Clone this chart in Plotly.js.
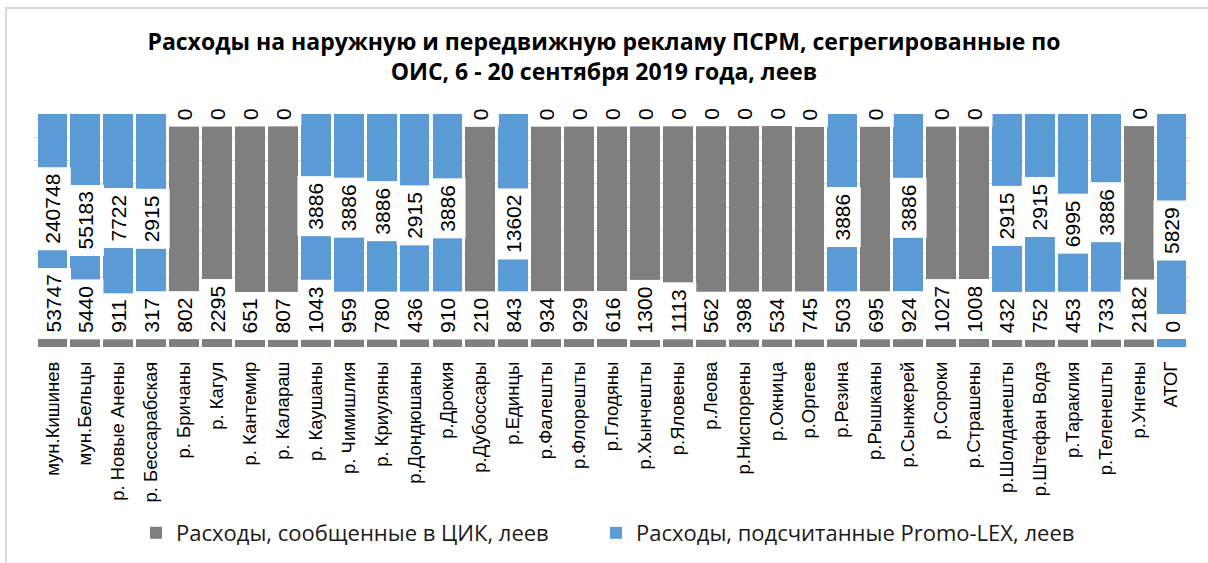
<!DOCTYPE html>
<html>
<head>
<meta charset="utf-8">
<script src="https://cdn.plot.ly/plotly-3.0.1.min.js"></script>
<style>
  html, body { margin: 0; padding: 0; background: #fff; }
  #wrap { position: relative; width: 1208px; height: 563px; overflow: hidden; }
  #chart { width: 1208px; height: 563px; }
  #frame { position: absolute; left: 5px; top: 7px; width: 1300px; height: 700px;
           border-left: 2px solid #d9d9d9; border-top: 2px solid #d9d9d9; pointer-events: none; }
</style>
</head>
<body>
<div id="wrap">
  <div id="chart"></div>
  <div id="frame"></div>
</div>
<script>
const categories = ["мун.Кишинев","мун.Бельцы","р. Новые Анены","р. Бессарабская","р. Бричаны","р. Кагул","р. Кантемир","р. Калараш","р. Каушаны","р. Чимишлия","р. Криуляны","р.Дондюшаны","р.Дрокия","р.Дубоссары","р.Единцы","р.Фалешты","р.Флорешты","р.Глодяны","р.Хынчешты","р.Яловены","р.Леова","р.Ниспорены","р.Окница","р.Оргеев","р.Резина","р.Рышканы","р.Сынжерей","р.Сороки","р.Страшены","р.Шолданешты","р.Штефан Водэ","р.Тараклия","р.Теленешты","р.Унгены","АТОГ"];
const cecValues = [53747,5440,911,317,802,2295,651,807,1043,959,780,436,910,210,843,934,929,616,1300,1113,562,398,534,745,503,695,924,1027,1008,432,752,453,733,2182,0];
const promoValues = [240748,55183,7722,2915,0,0,0,0,3886,3886,3886,2915,3886,0,13602,0,0,0,0,0,0,0,0,0,3886,0,3886,0,0,2915,2915,6995,3886,0,5829];
const seriesNames = ["Расходы, сообщенные в ЦИК, леев","Расходы, подсчитанные Promo-LEX, леев"];
const titleText = "Расходы на наружную и передвижную рекламу ПСРМ, сегрегированные по<br>ОИС, 6 - 20 сентября 2019 года, леев";

const GRAY = "#7f7f7f", BLUE = "#5b9bd5";
const labelFont = {family: "Liberation Sans, Arial, sans-serif", size: 21, color: "#000"};
const legendFont = {family: "Open Sans, sans-serif", size: 22, color: "#1a1a1a"};

const traces = [
  {type: "bar", name: seriesNames[0], x: categories, y: cecValues, marker: {color: GRAY}, hoverinfo: "skip", legend: "legend"},
  {type: "bar", name: seriesNames[1], x: categories, y: promoValues, marker: {color: BLUE}, hoverinfo: "skip", legend: "legend2"}
];

const annotations = [];
categories.forEach((c, i) => {
  const total = cecValues[i] + promoValues[i];
  const gPct = total ? cecValues[i] / total * 100 : 0;
  const bPct = total ? promoValues[i] / total * 100 : 0;
  annotations.push({
    x: c, y: 0, xref: "x", yref: "y", text: String(cecValues[i]), showarrow: false,
    textangle: -90, yanchor: "bottom", yshift: 7, bgcolor: "#ffffff", borderpad: 6,
    font: labelFont
  });
  annotations.push({
    x: c, y: gPct + bPct / 2, xref: "x", yref: "y", text: String(promoValues[i]), showarrow: false,
    textangle: -90, yanchor: "middle", bgcolor: "#ffffff", borderpad: 6,
    font: labelFont
  });
});

const layout = {
  width: 1208, height: 563,
  margin: {l: 33.5, r: 18, t: 114, b: 216},
  paper_bgcolor: "rgba(0,0,0,0)", plot_bgcolor: "#fff",
  barmode: "stack", barnorm: "percent", bargap: 0.092,
  title: {
    text: titleText, x: 0.5, xref: "container", xanchor: "center",
    y: 1 - 50 / 563, yref: "container", yanchor: "top",
    font: {family: "Open Sans, sans-serif", size: 23, weight: 700, color: "#000"}
  },
  xaxis: {
    type: "category", tickangle: -90, ticks: "", showgrid: false, zeroline: false, showline: false,
    tickfont: {family: "Liberation Sans, Arial, sans-serif", size: 18.5, color: "#000"},
    ticklabelstandoff: 10, fixedrange: true
  },
  yaxis: {
    range: [0, 100], dtick: 10, showticklabels: false, ticks: "", gridcolor: "#d9d9d9", gridwidth: 1,
    zeroline: false, showline: false, fixedrange: true
  },
  showlegend: true,
  legend: {
    orientation: "h", xref: "container", yref: "container", x: 136 / 1208, xanchor: "left",
    y: 1 - 533 / 563, yanchor: "middle", font: legendFont
  },
  legend2: {
    orientation: "h", xref: "container", yref: "container", x: 596 / 1208, xanchor: "left",
    y: 1 - 533 / 563, yanchor: "middle", font: legendFont
  },
  annotations: annotations
};

Plotly.newPlot("chart", traces, layout, {displayModeBar: false, staticPlot: true});
</script>
</body>
</html>
